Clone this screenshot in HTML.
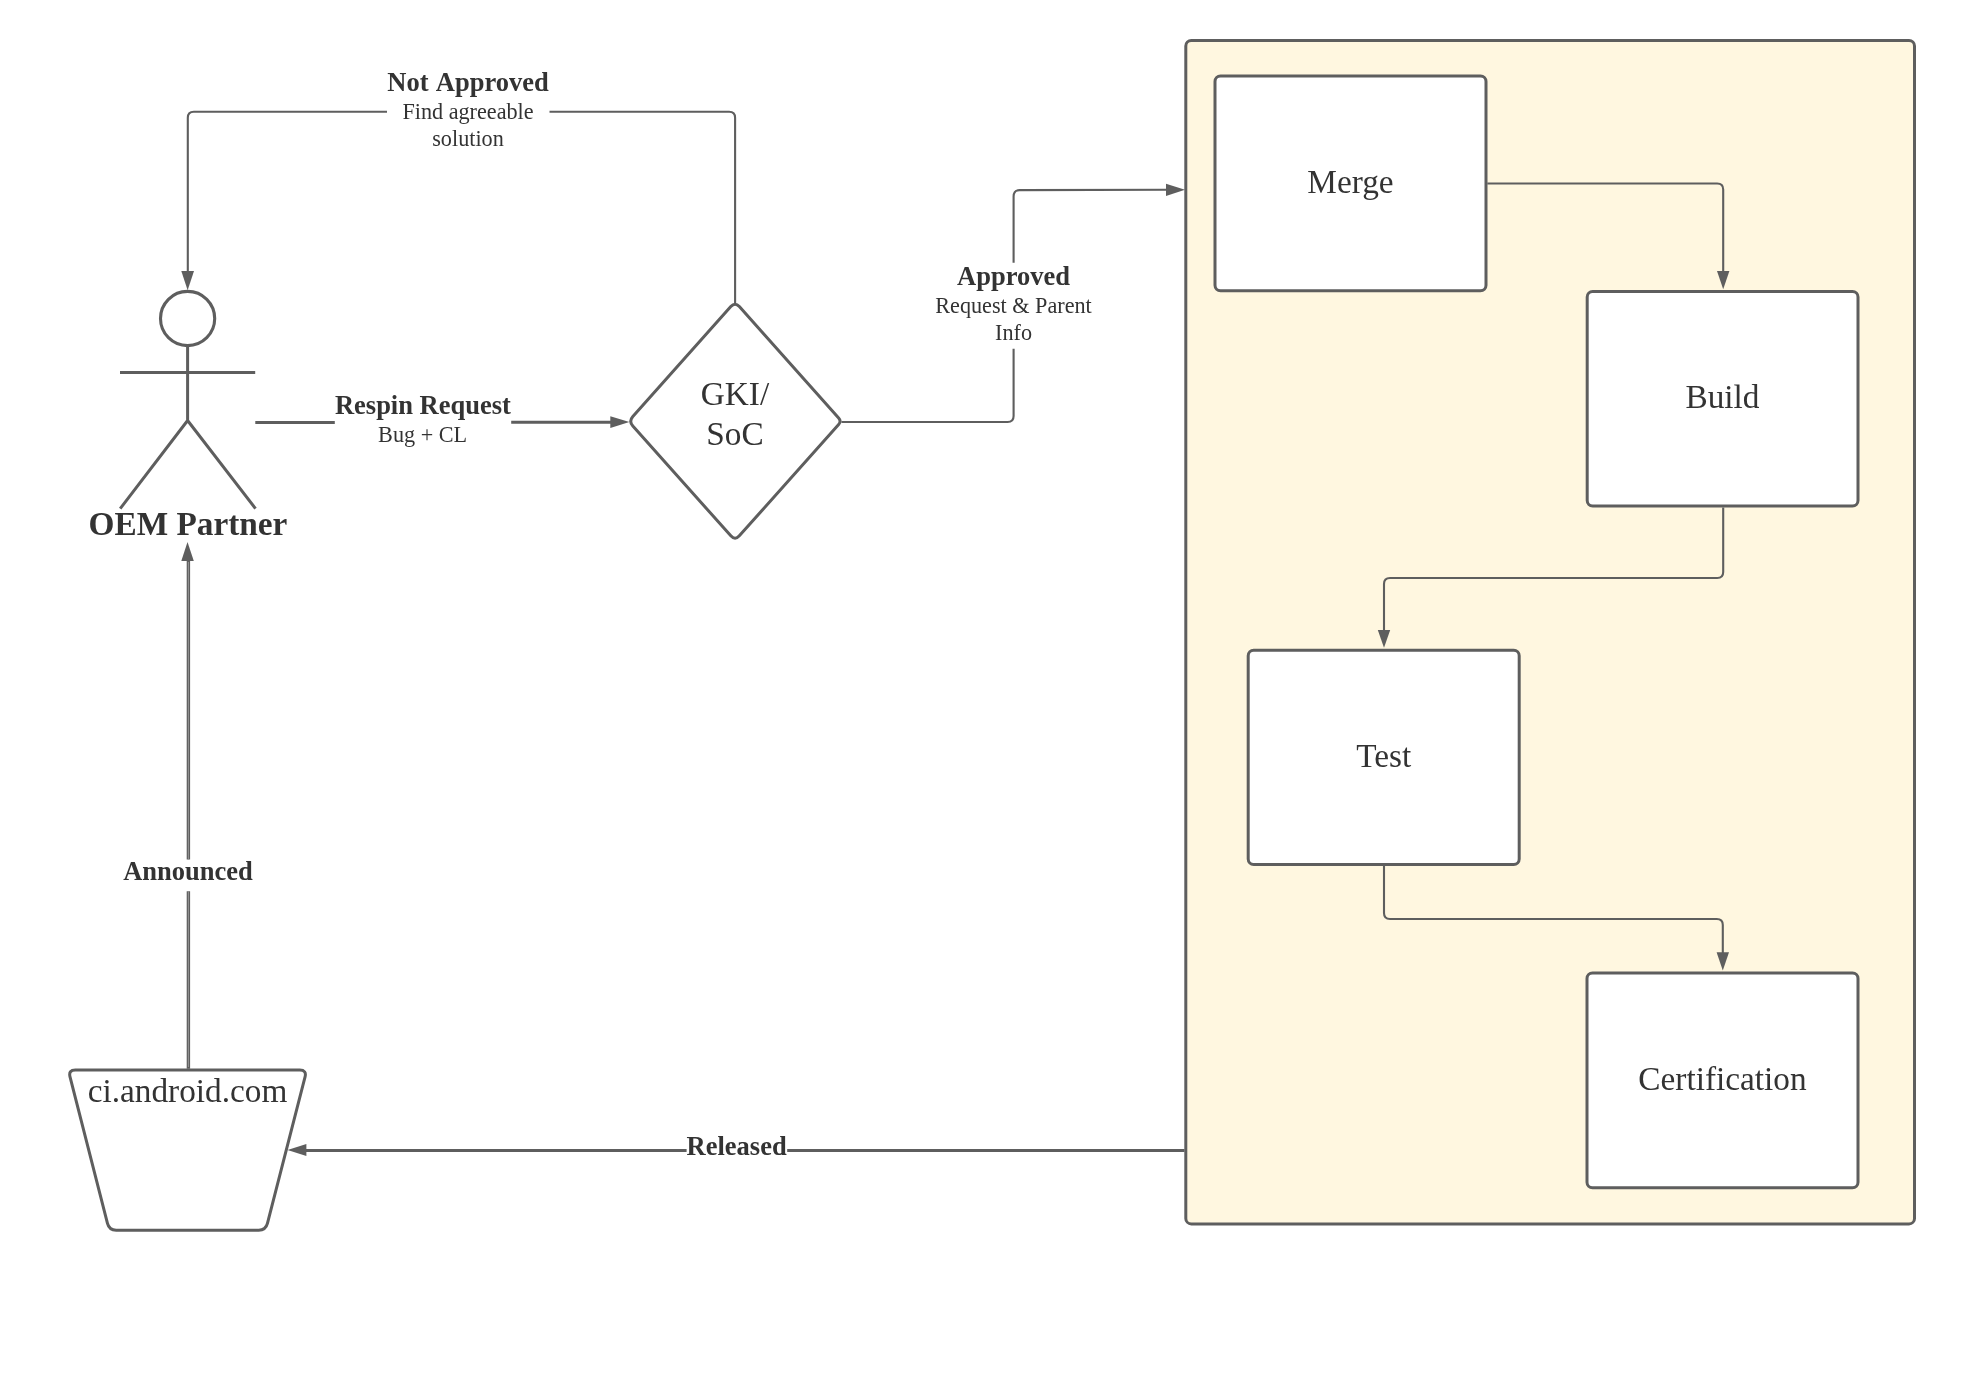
<!DOCTYPE html>
<html>
<head>
<meta charset="utf-8">
<title>GKI Respin Process</title>
<style>
html,body{margin:0;padding:0;background:#ffffff;}
body{width:1966px;height:1383px;overflow:hidden;}
svg{display:block;will-change:transform;}
text{font-family:"Liberation Serif","Times New Roman",serif;fill:#333333;text-anchor:middle;}
.b{font-weight:bold;font-size:26.5px;}
.s{font-size:22.2px;}
.l{font-size:33.3px;}
.ln{fill:none;stroke:#5e5e5e;stroke-width:2.1;stroke-linejoin:round;}
.lk{fill:none;stroke:#5e5e5e;stroke-width:3;}
.sh{fill:#ffffff;stroke:#5e5e5e;stroke-width:3;stroke-linejoin:round;}
.ar{fill:#5e5e5e;stroke:none;}
</style>
</head>
<body>
<svg width="1966" height="1383" viewBox="0 0 1966 1383">
<defs>
<clipPath id="oemclip"><rect x="89.7" y="500" width="300" height="50"/></clipPath>
</defs>
<rect x="0" y="0" width="1966" height="1383" fill="#ffffff"/>

<!-- container -->
<rect x="1185.8" y="40.4" width="728.7" height="1183.5" rx="5.5" ry="5.5" fill="#fff7e0" stroke="#5e5e5e" stroke-width="3"/>

<!-- boxes -->
<rect class="sh" x="1215" y="76" width="271" height="214.8" rx="5.5" ry="5.5"/>
<rect class="sh" x="1587.2" y="291.5" width="270.8" height="214.6" rx="5.5" ry="5.5"/>
<rect class="sh" x="1248.2" y="650.2" width="271" height="214.4" rx="5.5" ry="5.5"/>
<rect class="sh" x="1587" y="972.9" width="271" height="214.9" rx="5.5" ry="5.5"/>
<text class="l" x="1350.5" y="192.5">Merge</text>
<text class="l" x="1722.5" y="407.7">Build</text>
<text class="l" x="1383.7" y="766.5">Test</text>
<text class="l" x="1722.5" y="1089.9">Certification</text>

<!-- connectors inside container -->
<path class="ln" d="M1487.3 183.5 H1717.2 Q1723.2 183.5 1723.2 189.5 V272"/>
<path class="ar" d="M1717 270.9 H1729.4 L1723.2 289.2 Z"/>
<path class="ln" d="M1723.2 507.4 V572 Q1723.2 578 1717.2 578 H1390 Q1384 578 1384 584 V631"/>
<path class="ar" d="M1377.8 630.1 H1390.2 L1384 647.8 Z"/>
<path class="ln" d="M1384 865.9 V913 Q1384 919 1390 919 H1716.8 Q1722.8 919 1722.8 925 V953"/>
<path class="ar" d="M1716.6 952.3 H1729 L1722.8 970.4 Z"/>

<!-- actor -->
<circle cx="187.6" cy="318.5" r="27.1" fill="#ffffff" stroke="#5e5e5e" stroke-width="3.1"/>
<path d="M187.6 345.6 V420.5 M120 372.4 H255.2 M120.2 508.65 L187.6 420.5 L255.5 508.65" fill="none" stroke="#5e5e5e" stroke-width="3" stroke-linejoin="round"/>
<g clip-path="url(#oemclip)"><text x="188" y="535.3" style="font-weight:bold;font-size:33.3px">OEM Partner</text></g>

<!-- not approved connector -->
<path class="ln" d="M735.1 303 V117.8 Q735.1 111.8 729.1 111.8 H549.5 M387 111.8 H193.8 Q187.8 111.8 187.8 117.8 V272"/>
<path class="ar" d="M181.3 270.9 H194 L187.65 290.2 Z"/>
<text class="b" x="468" y="91.2" style="word-spacing:2.2px">Not Approved</text>
<text class="s" x="468" y="118.7">Find agreeable</text>
<text class="s" x="468" y="145.8">solution</text>

<!-- respin request connector -->
<path class="lk" d="M255.3 422.4 H334.8 M511.2 422.3 H611"/>
<path class="ar" d="M610.3 416.2 V428 L629.4 422.1 Z"/>
<text class="b" x="422.9" y="414">Respin Request</text>
<text class="s" x="422.6" y="441.8">Bug + CL</text>

<!-- diamond -->
<path class="sh" d="M730.81 306.58 Q735.07 301.80 739.33 306.58 L838.64 418.02 Q841.57 421.30 838.64 424.58 L739.33 535.83 Q735.07 540.60 730.81 535.82 L632.83 425.98 Q628.57 421.20 632.83 416.42 Z"/>
<text class="l" x="735" y="405.2">GKI/</text>
<text class="l" x="735" y="445.4">SoC</text>

<!-- approved connector -->
<path class="ln" d="M841.5 422 H1007.6 Q1013.6 422 1013.6 416 V348.7 M1013.6 262.7 V196.5 Q1013.6 190.1 1019.6 190.1 L1167 189.75"/>
<path class="ar" d="M1166 183.8 V195.9 L1185 189.8 Z"/>
<text class="b" x="1013.5" y="284.7">Approved</text>
<text class="s" x="1013.5" y="313">Request &amp; Parent</text>
<text class="s" x="1013.5" y="339.7">Info</text>

<!-- released connector -->
<path class="lk" d="M1184.5 1150.4 H787.2 M686.6 1150.4 H305"/>
<path class="ar" d="M306.4 1144 V1156 L287.5 1150 Z"/>
<text class="b" x="736.6" y="1155.3">Released</text>

<!-- trapezoid -->
<path class="sh" d="M70.03 1076.88 Q68.30 1070.10 75.30 1070.10 L299.80 1070.10 Q306.80 1070.10 305.06 1076.88 L267.44 1223.42 Q265.70 1230.20 258.70 1230.20 L116.20 1230.20 Q109.20 1230.20 107.47 1223.42 Z"/>
<text class="l" x="187.5" y="1101.5">ci.android.com</text>

<!-- announced connector -->
<path d="M188.4 1068.7 V891.3 M188.4 859.4 V560" fill="none" stroke="#5e5e5e" stroke-width="3.4"/>
<path d="M188.4 1067 V891.3 M188.4 859.4 V562" fill="none" stroke="#9a9a9a" stroke-width="0.9"/>
<path class="ar" d="M181.3 560.9 H193.8 L187.5 541.9 Z"/>
<text class="b" x="188" y="880.1">Announced</text>
</svg>
</body>
</html>
